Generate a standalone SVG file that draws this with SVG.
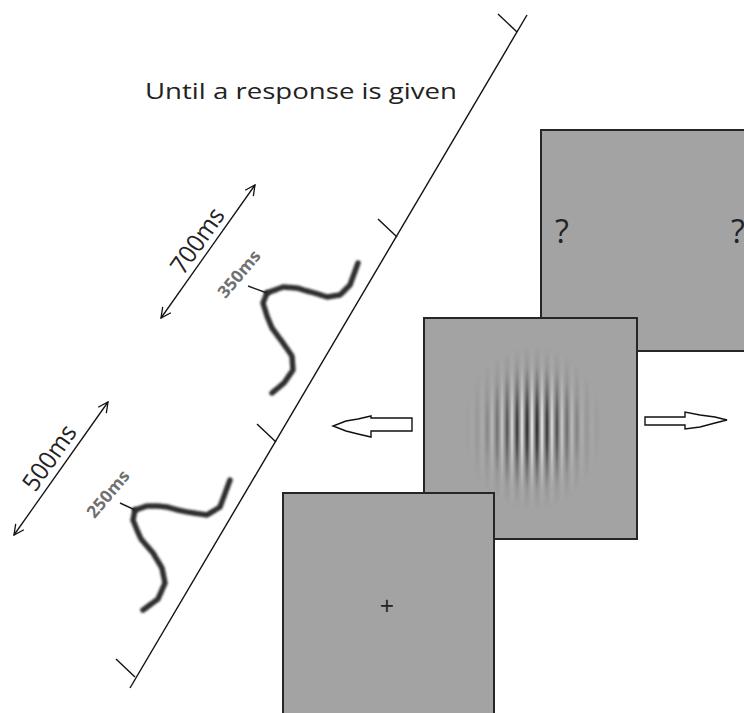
<svg xmlns="http://www.w3.org/2000/svg" width="744" height="713" viewBox="0 0 744 713">
<style>
.screen{fill:#a3a3a3;stroke:#262626;stroke-width:2}
.tl{stroke:#111;stroke-width:1.4;fill:none}
.dbl{stroke:#111;stroke-width:1.3;fill:none;marker-start:url(#open);marker-end:url(#open)}
.big{font-family:"Open Sans","Noto Sans",sans-serif;fill:#222}
.small{font-family:"Open Sans","Noto Sans",sans-serif;fill:#707070;font-weight:bold}
.sq{fill:none;stroke:#2e2e2e;stroke-width:5.5;stroke-linecap:round;stroke-linejoin:round;stroke-dasharray:3 1.5;filter:url(#blur)}
.blk{fill:#fff;stroke:#111;stroke-width:1.4;stroke-linejoin:miter}
</style>
<defs>
<marker id="open" viewBox="0 0 12 12" refX="11" refY="6" markerWidth="12" markerHeight="12" markerUnits="userSpaceOnUse" orient="auto-start-reverse">
<path d="M1,1 L11,6 L1,11" fill="none" stroke="#111" stroke-width="1.3"/>
</marker>
<filter id="blur" x="-20%" y="-20%" width="140%" height="140%"><feGaussianBlur stdDeviation="1"/></filter>
<linearGradient id="grating" gradientUnits="userSpaceOnUse" x1="527" y1="0" x2="537" y2="0" spreadMethod="repeat">
<stop offset="0" stop-color="#1e1e1e"/>
<stop offset="0.5" stop-color="#f2f2f2"/>
<stop offset="1" stop-color="#1e1e1e"/>
</linearGradient>
<radialGradient id="env" cx="0.5" cy="0.5" r="0.5">
<stop offset="0" stop-color="#fff" stop-opacity="1"/>
<stop offset="0.25" stop-color="#fff" stop-opacity="0.8"/>
<stop offset="0.5" stop-color="#fff" stop-opacity="0.4"/>
<stop offset="0.75" stop-color="#fff" stop-opacity="0.1"/>
<stop offset="1" stop-color="#fff" stop-opacity="0"/>
</radialGradient>
<mask id="gmask" maskUnits="userSpaceOnUse" x="424" y="318" width="213" height="221">
<rect x="463" y="345" width="140" height="166" fill="url(#env)"/>
</mask>
</defs>
<rect width="744" height="713" fill="#fff"/>

<g id="timeline">
<line class="tl" x1="130" y1="688" x2="527" y2="15"/>
<line class="tl" x1="498" y1="14" x2="517" y2="32"/>
<line class="tl" x1="378" y1="219" x2="397" y2="237"/>
<line class="tl" x1="257" y1="424" x2="276" y2="442"/>
<line class="tl" x1="116" y1="659" x2="135" y2="677"/>
</g>

<g id="label-until">
<text class="big" x="145" y="99" font-size="22" textLength="312" lengthAdjust="spacingAndGlyphs">Until a response is given</text>
</g>

<g id="connectors">
<line class="dbl" x1="161" y1="318" x2="255" y2="185"/>
<line class="dbl" x1="14" y1="535" x2="108" y2="402"/>
</g>

<g id="label-700">
<text class="big" font-size="25" text-anchor="middle" transform="translate(198,241) rotate(-55)" y="8" textLength="74" lengthAdjust="spacingAndGlyphs">700ms</text>
</g>
<g id="label-500">
<text class="big" font-size="25" text-anchor="middle" transform="translate(50,458) rotate(-55)" y="8" textLength="74" lengthAdjust="spacingAndGlyphs">500ms</text>
</g>

<g id="response-350">
<path class="sq" d="M267,293 L283,287 L297,288 L307,291 L318,294 L327,297 L340,295 L350,285 L358,263"/>
<path class="sq" d="M267,293 L263,303 L267,316 L272,328 L283,343 L292,356 L293,370 L284,383 L272,393"/>
<line x1="248" y1="286" x2="267" y2="293" stroke="#222" stroke-width="1.5"/>
<text class="small" font-size="17" text-anchor="middle" transform="translate(239,274) rotate(-50)" y="6" textLength="56" lengthAdjust="spacingAndGlyphs">350ms</text>
</g>

<g id="response-250">
<path class="sq" d="M135,510 L147,506 L158,506 L167,507 L178,510 L187,512 L207,515 L220,507 L230,480"/>
<path class="sq" d="M135,510 L133,520 L137,530 L141,539 L153,553 L162,568 L165,583 L158,599 L143,610"/>
<line x1="120" y1="503" x2="135" y2="510" stroke="#222" stroke-width="1.5"/>
<text class="small" font-size="17" text-anchor="middle" transform="translate(108,494) rotate(-50)" y="6" textLength="56" lengthAdjust="spacingAndGlyphs">250ms</text>
</g>

<g id="screen-response">
<rect class="screen" x="541" y="130" width="215" height="221"/>
<text class="big" x="562" y="243" font-size="32" text-anchor="middle" fill="#2b2b2b">?</text>
<text class="big" x="738" y="243" font-size="32" text-anchor="middle" fill="#2b2b2b">?</text>
</g>

<g id="screen-gabor">
<rect class="screen" x="424" y="318" width="213" height="221"/>
<rect x="425" y="319" width="211" height="219" fill="url(#grating)" mask="url(#gmask)"/>
</g>

<g id="screen-fixation">
<rect class="screen" x="283" y="493" width="211" height="230"/>
<text class="big" x="387" y="615" font-size="25" text-anchor="middle" fill="#1a1a1a">+</text>
</g>

<g id="arrow-left">
<polygon class="blk" points="412,418 371,418 371,416 358,419 346,421 333,426 346,431 358,434 371,437 371,431 412,431"/>
</g>
<g id="arrow-right">
<polygon class="blk" points="645,417 685,417 685,412 700,415 715,417 727,420 715,423 700,427 685,429 685,425 645,425"/>
</g>
</svg>
